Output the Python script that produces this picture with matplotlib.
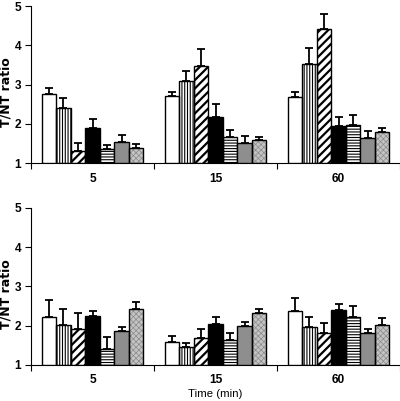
import matplotlib
matplotlib.use("Agg")
import matplotlib.pyplot as plt
from matplotlib import font_manager
import numpy as np

groups = ["5", "15", "60"]
# 7 series per group (top panel)
top_vals = [
    [2.77, 2.39, 1.30, 1.88, 1.36, 1.53, 1.37],
    [2.72, 3.08, 3.46, 2.16, 1.67, 1.52, 1.58],
    [2.69, 3.51, 4.41, 1.94, 1.97, 1.64, 1.78],
]
top_err_top = [
    [2.92, 2.65, 1.52, 2.13, 1.45, 1.71, 1.48],
    [2.81, 3.34, 3.90, 2.50, 1.83, 1.70, 1.67],
    [2.81, 3.94, 4.79, 2.18, 2.23, 1.82, 1.88],
]
bot_vals = [
    [2.22, 2.02, 1.92, 2.25, 1.39, 1.86, 2.43],
    [1.58, 1.46, 1.68, 2.03, 1.64, 1.99, 2.32],
    [2.37, 1.96, 1.80, 2.40, 2.22, 1.80, 2.02],
]
bot_err_top = [
    [2.64, 2.43, 2.32, 2.38, 1.71, 1.96, 2.59],
    [1.74, 1.56, 1.91, 2.22, 1.82, 2.08, 2.43],
    [2.71, 2.22, 2.07, 2.56, 2.49, 1.90, 2.18],
]

face = ["white", "white", "white", "black", "white", "#8e8e8e", "#c4c4c4"]
hatches = [None, "||||||", "////", None, "------", None, "xxxxxx"]
hcolor = ["black", "black", "black", "black", "black", "black", "#8a8a8a"]

names = {f.name for f in font_manager.fontManager.ttflist}
narrow = ["Liberation Sans Narrow"] if "Liberation Sans Narrow" in names else []
plt.rcParams["font.family"] = ["Liberation Sans", "DejaVu Sans"]
TICK_FAM = narrow + ["Liberation Sans", "DejaVu Sans"]
FS = 8.6

fig = plt.figure(figsize=(4.0, 4.01), dpi=100)
ax_top = fig.add_axes([0.0775, 0.5935, 0.9225, 0.3915])
ax_bot = fig.add_axes([0.0775, 0.0905, 0.9225, 0.3908])

width = 0.118
nser = 7

def draw(ax, vals, errtop):
    vals = np.array(vals)
    errtop = np.array(errtop)
    x = np.arange(len(groups))
    for s in range(nser):
        xs = x + (s - (nser - 1) / 2) * width
        h = vals[:, s] - 1
        plt.rcParams["hatch.linewidth"] = 1.6 if s == 2 else (0.5 if s == 6 else 0.8)
        if hatches[s]:
            ax.bar(xs, h, width, bottom=1, color=face[s], edgecolor=hcolor[s],
                   hatch=hatches[s], linewidth=0, zorder=2)
            ax.bar(xs, h, width, bottom=1, fill=False, edgecolor="black",
                   linewidth=1.0, zorder=3)
        else:
            ax.bar(xs, h, width, bottom=1, color=face[s], edgecolor="black",
                   linewidth=1.0, zorder=3)
        up = errtop[:, s] - vals[:, s]
        ax.errorbar(xs, vals[:, s], yerr=[np.zeros_like(up), up], fmt="none",
                    ecolor="black", elinewidth=1.3, capsize=3, capthick=1.3,
                    zorder=4)
    ax.set_xlim(-0.5, 2.5)
    ax.set_ylim(1, 5)
    ax.set_yticks([1, 2, 3, 4, 5])
    ax.set_xticks(x)
    ax.set_xticklabels(groups)
    ax.set_xticks([-0.5, 0.5, 1.5, 2.5], minor=True)
    ax.tick_params(axis="x", which="major", length=0, pad=7)
    ax.tick_params(axis="x", which="minor", length=4, direction="out", width=0.8)
    ax.tick_params(axis="y", length=4, direction="out", width=0.8, pad=3)
    for lab in ax.get_yticklabels() + ax.get_xticklabels():
        lab.set_fontweight("bold")
        lab.set_fontsize(FS)
        lab.set_family(TICK_FAM)
    for sp in ["top", "right"]:
        ax.spines[sp].set_visible(False)
    for sp in ["left", "bottom"]:
        ax.spines[sp].set_linewidth(0.8)
    ax.set_ylabel("T/NT ratio", fontweight="bold", fontsize=9,
                  family=["DejaVu Sans"])
    ax.yaxis.set_label_coords(-0.068, 0.452)
    ax.yaxis.label.set_va("center")

draw(ax_top, top_vals, top_err_top)
draw(ax_bot, bot_vals, bot_err_top)
ax_bot.set_xlabel("Time (min)", fontsize=8.2)
ax_bot.xaxis.set_label_coords(0.5, -0.187)
ax_bot.xaxis.label.set_va("center")

fig.savefig("out.png", dpi=100)
